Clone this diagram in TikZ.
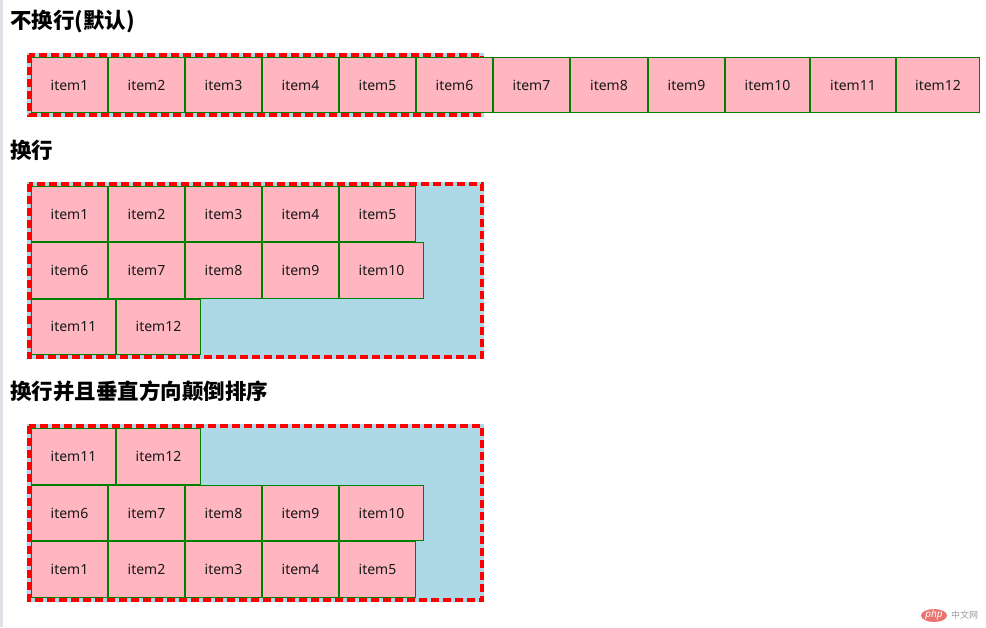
\documentclass[tikz,border=0pt]{standalone}
\usepackage{fontspec}
\setmainfont{Noto Sans}
\newfontfamily\cjk{Noto Sans CJK SC}
\definecolor{itempink}{HTML}{FFB6C1}
\definecolor{itemgreen}{HTML}{008000}
\definecolor{boxblue}{HTML}{ADD8E6}
\definecolor{phpred}{HTML}{E9736E}
\definecolor{stripgray}{HTML}{DFE3E8}
\tikzset{
  itembox/.style={draw=itemgreen, line width=1pt, fill=itempink, inner sep=0pt, outer sep=0pt,
    anchor=north west, font=\fontsize{14}{16}\selectfont, text=black!90},
  contbg/.style={fill=boxblue, draw=none},
  contborder/.style={draw=red, line width=4pt, dash pattern=on 8pt off 4pt},
  title/.style={anchor=west, inner sep=0pt, font=\cjk\bfseries\fontsize{21.5}{24}\selectfont}
}
% #1 name, #2 x, #3 y, #4 w, #5 h, #6 label
\newcommand{\itm}[6]{%
  \node[itembox, minimum width={#4pt-1pt}, minimum height={#5pt-1pt}] (#1) at ({#2+0.5},{-#3-0.5}) {#6};}
\begin{document}
\begin{tikzpicture}[x=1pt,y=1pt]
\useasboundingbox (0,0) rectangle (986,-627);
\fill[white] (0,0) rectangle (986,-627);
\fill[stripgray] (0,0) rectangle (2.5,-627);

% ---------- section 1
\node[title] (t1) at (10,-21.5) {不换行(默认)};
\fill[contbg] (27,-53) rectangle (484,-117);
\draw[contborder] (29,-55) rectangle (482,-115);
\itm{a1}{31}{57}{77}{56}{item1}
\itm{a2}{108}{57}{77}{56}{item2}
\itm{a3}{185}{57}{77}{56}{item3}
\itm{a4}{262}{57}{77}{56}{item4}
\itm{a5}{339}{57}{77}{56}{item5}
\itm{a6}{416}{57}{77}{56}{item6}
\itm{a7}{493}{57}{77}{56}{item7}
\itm{a8}{570}{57}{78}{56}{item8}
\itm{a9}{648}{57}{77}{56}{item9}
\itm{a10}{725}{57}{85}{56}{item10}
\itm{a11}{810}{57}{86}{56}{item11}
\itm{a12}{896}{57}{84}{56}{item12}

% ---------- section 2
\node[title] (t2) at (10,-150) {换行};
\fill[contbg] (27,-182) rectangle (484,-359);
\draw[contborder] (29,-184) rectangle (482,-357);
\itm{b1}{31}{186}{77}{56.3}{item1}
\itm{b2}{108}{186}{77}{56.3}{item2}
\itm{b3}{185}{186}{77}{56.3}{item3}
\itm{b4}{262}{186}{77}{56.3}{item4}
\itm{b5}{339}{186}{77}{56.3}{item5}
\itm{b6}{31}{242.3}{77}{56.3}{item6}
\itm{b7}{108}{242.3}{77}{56.3}{item7}
\itm{b8}{185}{242.3}{77}{56.3}{item8}
\itm{b9}{262}{242.3}{77}{56.3}{item9}
\itm{b10}{339}{242.3}{85}{56.3}{item10}
\itm{b11}{31}{298.6}{85}{56.3}{item11}
\itm{b12}{116}{298.6}{85}{56.3}{item12}

% ---------- section 3
\node[title] (t3) at (10,-391.5) {换行并且垂直方向颠倒排序};
\fill[contbg] (27,-423.5) rectangle (484,-602);
\draw[contborder] (29,-425.5) rectangle (482,-600);
\itm{c11}{31}{428}{85}{56.7}{item11}
\itm{c12}{116}{428}{85}{56.7}{item12}
\itm{c6}{31}{484.7}{77}{56.7}{item6}
\itm{c7}{108}{484.7}{77}{56.7}{item7}
\itm{c8}{185}{484.7}{77}{56.7}{item8}
\itm{c9}{262}{484.7}{77}{56.7}{item9}
\itm{c10}{339}{484.7}{85}{56.7}{item10}
\itm{c1}{31}{541.4}{77}{56.7}{item1}
\itm{c2}{108}{541.4}{77}{56.7}{item2}
\itm{c3}{185}{541.4}{77}{56.7}{item3}
\itm{c4}{262}{541.4}{77}{56.7}{item4}
\itm{c5}{339}{541.4}{77}{56.7}{item5}

% ---------- watermark
\fill[phpred] (934,-615.5) ellipse (13 and 6.5);
\node[text=white, inner sep=0pt, font=\itshape\fontsize{10}{10}\selectfont] (wm1) at (934,-615) {php};
\node[text=gray!80, anchor=west, inner sep=0pt, font=\cjk\fontsize{9}{10}\selectfont] (wm2) at (951,-615.5) {中文网};
\end{tikzpicture}
\end{document}
